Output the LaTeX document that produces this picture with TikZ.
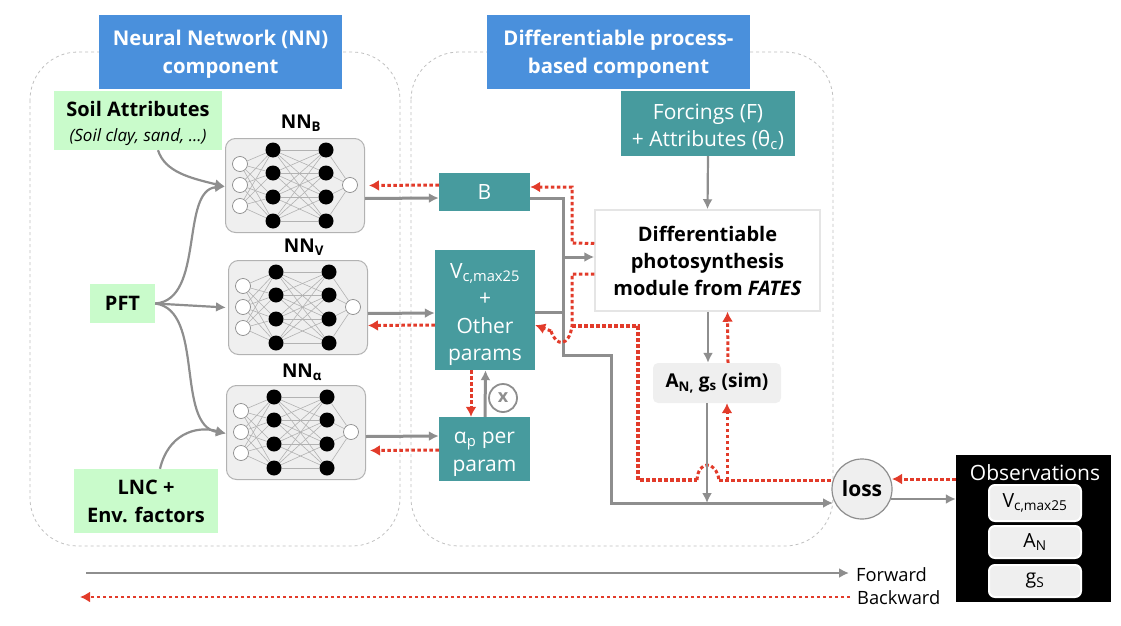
\documentclass[tikz,border=0pt]{standalone}
\usepackage{fontspec}
\setmainfont{Open Sans}
\usetikzlibrary{arrows.meta,calc}
\definecolor{hdr}{HTML}{4A90DC}
\definecolor{teal1}{HTML}{479B9E}
\definecolor{grn}{HTML}{C9FBCB}
\definecolor{fw}{HTML}{8E8E8E}
\definecolor{bw}{HTML}{E23B2A}
\definecolor{pale}{HTML}{EFEFEF}
\tikzset{
 x=1pt,y=-1pt,
 header/.style={fill=hdr,text=white,font=\fontsize{20.3}{28}\selectfont\bfseries,inner sep=0pt,align=center},
 tealbox/.style={fill=teal1,text=white,font=\fontsize{21}{27.5}\selectfont,inner sep=0pt,align=center},
 green/.style={fill=grn,font=\fontsize{20}{28}\selectfont\bfseries,inner sep=0pt,align=center},
 nnbox/.style={draw=black!30,fill=pale,rounded corners=10pt,line width=1pt,inner sep=0pt},
 container/.style={draw=black!25,dashed,line width=.8pt,rounded corners=48pt},
 fwd/.style={draw=fw,line width=3pt,-{Latex[length=10pt,width=10pt]}},
 fwdthin/.style={draw=fw,line width=2.2pt,-{Latex[length=10pt,width=10pt]}},
 fwdn/.style={draw=fw,line width=3pt},
 bwd/.style={draw=bw,line width=3pt,dash pattern=on 3.5pt off 2.5pt,-{Latex[length=10pt,width=11pt]}},
 bwdn/.style={draw=bw,line width=3pt,dash pattern=on 3.5pt off 2.5pt},
 nnwire/.style={draw=black!30,line width=.6pt},
 inn/.style={circle,draw=black!45,fill=white,minimum size=15pt,inner sep=0pt,line width=.7pt},
 hid/.style={circle,fill=black,minimum size=15pt,inner sep=0pt},
 lbl/.style={font=\fontsize{19}{22}\selectfont\bfseries,inner sep=0pt},
 obsitem/.style={fill=pale,rounded corners=6pt,draw=white,line width=2pt,font=\fontsize{19.5}{24}\selectfont,inner sep=0pt,align=center,minimum width=92pt},
 legend/.style={font=\fontsize{18.3}{20}\selectfont,inner sep=0pt,anchor=west}
}
\newcommand{\sbs}[1]{\textsubscript{#1}}
\newcommand{\lift}[1]{\rule{0pt}{#1}}
% #1 name, #2 left, #3 top
\newcommand{\nnet}[3]{%
 \node[nnbox,minimum width=139pt,minimum height=94pt,anchor=north west] (#1) at (#2,#3) {};
 \foreach \i/\yy in {1/26,2/47,3/68}{\node[inn] (#1i\i) at (#2+15,#3+\yy) {};}
 \foreach \i/\yy in {1/12,2/35,3/59,4/83}{\node[hid] (#1a\i) at (#2+48,#3+\yy) {};\node[hid] (#1b\i) at (#2+101,#3+\yy) {};}
 \node[inn] (#1o) at (#2+125,#3+47) {};
 \foreach \i in {1,2,3}{\foreach \j in {1,2,3,4}{\draw[nnwire] (#1i\i) -- (#1a\j);}}
 \foreach \i in {1,2,3,4}{\foreach \j in {1,2,3,4}{\draw[nnwire] (#1a\i) -- (#1b\j);}}
 \foreach \i in {1,2,3,4}{\draw[nnwire] (#1b\i) -- (#1o);}
}
\begin{document}
\begin{tikzpicture}
\useasboundingbox (0,0) rectangle (1121,626);
\draw[container] (30,52) rectangle (400,546);
\draw[container] (411,52) rectangle (833,546);
\node[header,minimum width=243pt,minimum height=74pt] (hnn) at (220.5,52) {\lift{20pt}Neural Network (NN)\\component};
\node[header,minimum width=263pt,minimum height=74pt] (hdp) at (618.5,52) {\lift{20pt}Differentiable process-\\based component};
\node[green,minimum width=168pt,minimum height=59pt] (soil) at (138,120.5) {\lift{22pt}Soil Attributes\\[-3pt]{\fontsize{17}{18}\selectfont\mdseries\itshape (Soil clay, sand, ...)}};
\node[green,minimum width=65pt,minimum height=39pt] (pft) at (122.5,303.5) {PFT};
\node[green,minimum width=144pt,minimum height=64pt] (lnc) at (146,501) {LNC +\\Env. factors};
\nnet{nb}{225}{138}
\nnet{nv}{228}{260}
\nnet{na}{226}{385}
\node[lbl] (lb) at (301,123) {NN\sbs{B}};
\node[lbl] (lv) at (304,247) {NN\sbs{V}};
\node[lbl] (la) at (302,372) {NN\sbs{α}};
\node[tealbox,minimum width=91pt,minimum height=38pt] (B) at (484.5,192) {B};
\node[tealbox,minimum width=100pt,minimum height=120pt] (V) at (485,310) {\lift{24pt}V\sbs{c,max25}\\+\\Other\\params};
\node[tealbox,minimum width=91pt,minimum height=64pt] (P) at (484.5,449) {\lift{22pt}α\sbs{p} per\\param};
\node[tealbox,minimum width=174pt,minimum height=65pt] (F) at (708,123.5) {\lift{22pt}Forcings (F)\\+ Attributes (θ\sbs{c})};
\node[draw=black!10,fill=white,line width=1.5pt,minimum width=225pt,minimum height=101pt,inner sep=0pt,align=center,font=\fontsize{20}{27}\selectfont\bfseries] (D) at (707.5,260.5) {Differentiable\\photosynthesis\\module from \textit{FATES}};
\node[fill=pale,rounded corners=5pt,minimum width=128pt,minimum height=40pt,inner sep=0pt,font=\fontsize{19}{24}\selectfont\bfseries] (A) at (717,383) {A\sbs{N,} g\sbs{s} (sim)};
\node[circle,draw=fw,fill=pale,line width=1.2pt,minimum size=60pt,inner sep=0pt,font=\fontsize{21}{24}\selectfont\bfseries] (L) at (862,489) {loss};
\node[fill=black,minimum width=155pt,minimum height=147pt,inner sep=0pt] (O) at (1033.5,528.5) {};
\node[text=white,font=\fontsize{21}{24}\selectfont,inner sep=0pt] (Ot) at (1035,473) {Observations};
\node[obsitem,minimum height=36pt] (O1) at (1035,503) {V\sbs{c,max25}};
\node[obsitem,minimum height=32pt] (O2) at (1035,542) {A\sbs{N}};
\node[obsitem,minimum height=32pt] (O3) at (1035,581) {g\sbs{S}};
\node[circle,draw=fw,line width=1.8pt,minimum size=28pt,inner sep=0pt,text=fw,font=\fontsize{18}{20}\selectfont\bfseries] (x) at (503,398) {x};
% NN inputs
\draw[fwdthin] ([xshift=20pt]soil.south) .. controls (165,172) and (190,178) .. ([yshift=-1pt]nb.west);
\draw[fwdthin] (pft.east) .. controls (205,300) and (180,190) .. ([yshift=-1pt]nb.west);
\draw[fwdthin] (pft.east) -- ([xshift=-2pt]nv.west);
\draw[fwdthin] (pft.east) .. controls (205,310) and (175,425) .. ([yshift=-1pt]na.west);
\draw[fwdthin] ([xshift=14pt]lnc.north) .. controls (168,435) and (195,425) .. ([yshift=-1pt]na.west);
% NN <-> params
\draw[fwd] ([yshift=-13pt]nb.east) -- ([yshift=-6pt]B.west);
\draw[bwd] ([yshift=7pt]B.west) -- ([xshift=4pt,yshift=0pt]nb.east);
\draw[fwd] ([yshift=-6pt]nv.east) -- ([yshift=-3pt]V.west);
\draw[bwd] ([yshift=-15pt]V.west) -- ([yshift=-18pt]nv.east);
\draw[fwd] ([yshift=-4pt]na.east) -- ([yshift=13pt]P.west);
\draw[bwd] ([yshift=-1pt]P.west) -- ([xshift=4pt,yshift=-18pt]na.east);
\draw[bwd] ([xshift=-14pt]V.south) -- ([xshift=-13.5pt]P.north);
\draw[fwd] ([xshift=.5pt]P.north) -- ([xshift=.5pt]V.south);
% process part
\draw[fwdthin] (F.south) -- (D.north);
\draw[fwd] ([yshift=-6pt]B.east) -- (563,198) -- (563,355) -- (611,355) -- (611,503) -- ($(L.center)+(-29,14)$);
\draw[fwd] (563,257) -- ([yshift=3.5pt]D.west);
\draw[fwdn] ([yshift=-2pt]V.east) -- (563,312);
\draw[bwd] ([yshift=17pt]D.west) -- (572,243) -- (572,187) -- ([yshift=5pt]B.east);
\draw[bwdn] ([yshift=-13.5pt]D.west) -- (572,274) -- (572,326) .. controls (569,347) and (556,347) .. (551,331);
\draw[bwd] (551,331) -- ([yshift=-15pt]V.east);
\draw[bwdn,line width=3.4pt] (572,326) -- (638,326) -- (638,480) -- (697,480);
\draw[bwdn] (697,480) .. controls (698,460) and (716,460) .. (719,480);
\draw[bwdn] (719,480) -- ($(L.center)+(-29,-9)$);
\draw[bwd] (727,480) -- ([xshift=10pt]A.south);
\draw[bwd] ([xshift=11pt]A.north) -- ([xshift=20pt]D.south);
\draw[fwdthin] ([xshift=.5pt]D.south) -- ([xshift=-9pt]A.north);
\draw[fwdthin] ([xshift=-10pt]A.south) -- (707,503);
% loss - obs
\draw[fwdthin] ($(L.center)+(29,10)$) -- ([yshift=29.5pt]O.west);
\draw[bwd] ([yshift=49.5pt]O.west) -- ($(L.center)+(30,-10)$);
% legend
\node[legend] (ft) at (856,575) {Forward};
\node[legend] (bt) at (857,598) {Backward};
\coordinate (fs) at (86,573);
\coordinate (bs) at (850,597);
\coordinate (be) at (80,597);
\draw[fwdthin] (fs) -- ([xshift=-7pt,yshift=2pt]ft.west);
\draw[bwd,line width=2.4pt] (bs) -- (be);
\end{tikzpicture}
\end{document}
